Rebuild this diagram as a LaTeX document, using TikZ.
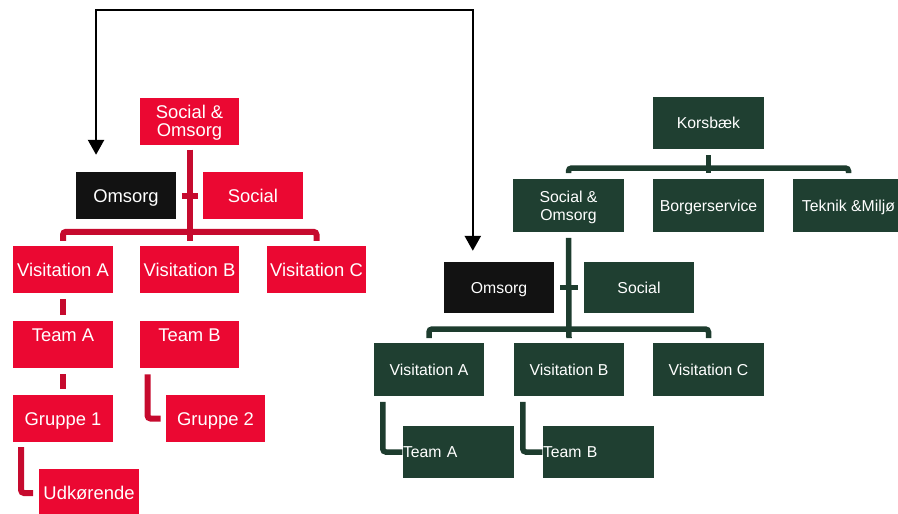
\documentclass[tikz,border=0pt]{standalone}
\usepackage{fontspec}
\setmainfont{Liberation Sans}
\usetikzlibrary{arrows.meta}
\definecolor{boxred}{HTML}{EB0832}
\definecolor{linered}{HTML}{C60A2E}
\definecolor{boxgreen}{HTML}{1F3F31}
\definecolor{linegreen}{HTML}{1D3C2E}
\definecolor{boxblack}{HTML}{121212}
\tikzset{
  redbox/.style={rectangle, fill=boxred, text=white, inner sep=0pt,
    minimum width=99.5pt, minimum height=47pt, align=center,
    font=\fontsize{18.4}{18.5}\selectfont, text height=17pt, text depth=3.8pt},
  redtwo/.style={redbox, text height=35.5pt},
  redblack/.style={redbox, fill=boxblack},
  redtop/.style={redbox, anchor=north, text height=19.6pt, text depth=26.4pt},
  greenbox/.style={rectangle, fill=boxgreen, text=white, inner sep=0pt,
    minimum width=111pt, minimum height=52.5pt, align=center,
    font=\fontsize{15.8}{18}\selectfont, text height=14.5pt, text depth=3.2pt},
  greentwo/.style={greenbox, text height=32.5pt},
  greenblack/.style={greenbox, fill=boxblack},
  greenleft/.style={greenbox, text width=110pt, align=left},
  redconn/.style={draw=linered, line width=6pt, rounded corners=3pt},
  greenconn/.style={draw=linegreen, line width=5.5pt, rounded corners=3pt},
  linkline/.style={draw=black, line width=2.5pt, line join=miter,
    {Triangle[width=16pt,length=15pt]}-{Triangle[width=16pt,length=15pt]}}
}
\begin{document}
\begin{tikzpicture}[x=1pt, y=-1pt]
\useasboundingbox (0,0) rectangle (898,514);

% ---- left organisation chart ----
\node[redtwo] (soL) at (189.5,121) {Social \&\\Omsorg};
\node[redblack] (omsL) at (126,195.5) {Omsorg};
\node[redbox] (socL) at (253,195.5) {Social};
\node[redbox] (vaL) at (63,269.5) {Visitation A};
\node[redbox] (vbL) at (189.5,269.5) {Visitation B};
\node[redbox] (vcL) at (316.5,269.5) {Visitation C};
\node[redtop] (taL) at (63,321) {Team A};
\node[redtop] (tbL) at (189.5,321) {Team B};
\node[redbox] (g1L) at (63,418.5) {Gruppe 1};
\node[redbox] (g2L) at (215.5,418.5) {Gruppe 2};
\node[redbox, minimum height=48pt] (udL) at (89,493) {Udkørende};

\draw[redconn] ([yshift=-5pt]soL.south) -- ([yshift=5pt]vbL.north);
\draw[redconn] ([xshift=6pt]omsL.east) -- ([xshift=-5pt]socL.west);
\draw[redconn] ([yshift=5pt]vaL.north) -- ++(0,-9) -| ([yshift=5pt]vcL.north);
\draw[redconn] ([yshift=-6pt]vaL.south) -- ([yshift=6pt]taL.north);
\draw[redconn] ([yshift=-6pt]taL.south) -- ([yshift=6pt]g1L.north);
\draw[redconn] ([xshift=8pt,yshift=-6pt]tbL.south west) |- ([xshift=-5pt]g2L.west);
\draw[redconn] ([xshift=8pt,yshift=-5pt]g1L.south west) |- ([xshift=-6pt]udL.west);

% ---- right organisation chart ----
\node[greenbox] (kor) at (708.5,123) {Korsbæk};
\node[greentwo] (soR) at (568.5,205.5) {Social \&\\Omsorg};
\node[greenbox] (bor) at (708.5,205.5) {Borgerservice};
\node[greenbox] (tek) at (848.5,205.5) {Teknik \&Miljø};
\node[greenblack, minimum width=110pt, minimum height=51pt] (omsR) at (499,287.5) {Omsorg};
\node[greenbox, minimum width=110pt, minimum height=51pt] (socR) at (639,287.5) {Social};
\node[greenbox, minimum width=110pt] (vaR) at (429,369.5) {Visitation A};
\node[greenbox, minimum width=110pt] (vbR) at (569,369.5) {Visitation B};
\node[greenbox] (vcR) at (708.5,369.5) {Visitation C};
\node[greenleft] (taR) at (458,452) {Team A};
\node[greenleft] (tbR) at (598,452) {Team B};

\draw[greenconn] ([yshift=-6pt]kor.south) -- ([yshift=6pt]bor.north);
\draw[greenconn] ([yshift=6pt]soR.north) -- ++(0,-5) -| ([yshift=6pt]tek.north);
\draw[greenconn] ([yshift=-6pt]soR.south) -- ([yshift=5pt]vbR.north);
\draw[greenconn] ([xshift=6pt]omsR.east) -- ([xshift=-6pt]socR.west);
\draw[greenconn] ([yshift=5pt]vaR.north) -- ++(0,-9) -| ([yshift=5pt]vcR.north);
\draw[greenconn] ([xshift=9pt,yshift=-6pt]vaR.south west) |- (taR.west);
\draw[greenconn] ([xshift=9pt,yshift=-6pt]vbR.south west) |- (tbR.west);

% ---- link between the two Omsorg units ----
\coordinate (linkL) at ([xshift=20pt,yshift=17pt]omsL.north west);
\coordinate (linkR) at ([xshift=29pt,yshift=11pt]omsR.north west);
\coordinate (linktop) at (0,10);
\draw[linkline] (linkL) -- (linkL |- linktop) -| (linkR);
\end{tikzpicture}
\end{document}
